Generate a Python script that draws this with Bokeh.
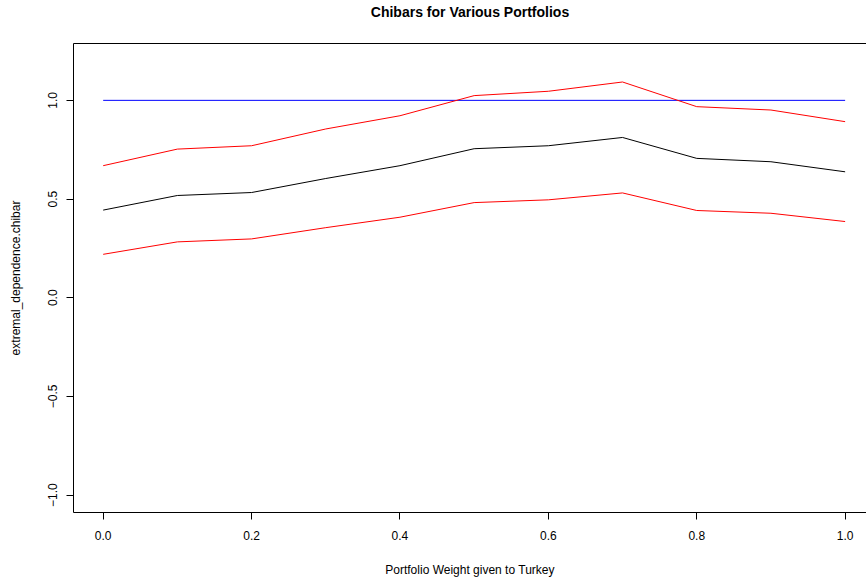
from bokeh.plotting import figure
from bokeh.models import LinearAxis, FixedTicker, Range1d
from bokeh.embed import file_html
from bokeh.resources import INLINE

weights = [0.0, 0.1, 0.2, 0.3, 0.4, 0.5, 0.6, 0.7, 0.8, 0.9, 1.0]
chibar = [0.444, 0.518, 0.533, 0.604, 0.669, 0.755, 0.770, 0.812, 0.706, 0.689, 0.638]
chibar_upper = [0.669, 0.753, 0.770, 0.855, 0.922, 1.024, 1.046, 1.093, 0.968, 0.951, 0.892]
chibar_lower = [0.220, 0.283, 0.298, 0.355, 0.408, 0.482, 0.496, 0.531, 0.442, 0.428, 0.386]
reference_x = [0.0, 1.0]
reference_y = [1.0, 1.0]
x_ticks = [0.0, 0.2, 0.4, 0.6, 0.8, 1.0]
y_ticks = [-1.0, -0.5, 0.0, 0.5, 1.0]
title_text = "Chibars for Various Portfolios"

FONT = "Liberation Sans"

p = figure(width=866, height=582, output_backend="svg", toolbar_location=None,
           x_range=Range1d(-0.04, 1.0288), y_range=Range1d(-1.088, 1.288),
           x_axis_location=None, y_axis_location=None,
           min_border_left=73, min_border_right=0, min_border_top=43, min_border_bottom=70,
           background_fill_color="white", border_fill_color="white")
p.outline_line_color = None
p.grid.visible = False

def style_axis(ax, label):
    ax.axis_label = label
    ax.axis_label_text_font = FONT
    ax.axis_label_text_font_size = "12px"
    ax.axis_label_text_font_style = "normal"
    ax.axis_label_text_color = "black"
    ax.major_label_text_font = FONT
    ax.major_label_text_font_size = "12px"
    ax.major_label_text_color = "black"
    ax.major_tick_in = 0
    ax.major_tick_out = 7
    ax.minor_tick_line_color = None
    ax.axis_line_color = "black"
    ax.major_tick_line_color = "black"

xaxis = LinearAxis(ticker=FixedTicker(ticks=x_ticks))
style_axis(xaxis, "Portfolio Weight given to Turkey")
xaxis.major_label_standoff = 11
xaxis.axis_label_standoff = 20
xaxis.major_label_overrides = {t: f"{t:.1f}" for t in x_ticks}
p.add_layout(xaxis, "below")

yaxis = LinearAxis(ticker=FixedTicker(ticks=y_ticks))
style_axis(yaxis, "extremal_dependence.chibar")
yaxis.major_label_orientation = "vertical"
yaxis.major_label_standoff = 9
yaxis.axis_label_standoff = 23
yaxis.major_label_overrides = {t: f"{t:.1f}".replace("-", "\u2212") for t in y_ticks}
p.add_layout(yaxis, "left")

# top border of the box, carrying the chart title as its label
top = LinearAxis(ticker=FixedTicker(ticks=[]))
top.major_label_text_font_size = "0px"
top.major_label_standoff = 0
top.major_tick_out = 0
top.major_tick_in = 0
top.minor_tick_line_color = None
top.axis_line_color = "black"
top.axis_label = title_text
top.axis_label_text_font = FONT
top.axis_label_text_font_size = "14px"
top.axis_label_text_font_style = "bold"
top.axis_label_text_color = "black"
top.axis_label_standoff = 24
p.add_layout(top, "above")

p.line(reference_x, reference_y, line_color="#0000FF", line_width=1)
p.line(weights, chibar_upper, line_color="#FF0000", line_width=1)
p.line(weights, chibar, line_color="black", line_width=1)
p.line(weights, chibar_lower, line_color="#FF0000", line_width=1)

open("out.html", "w").write(file_html(p, INLINE))
